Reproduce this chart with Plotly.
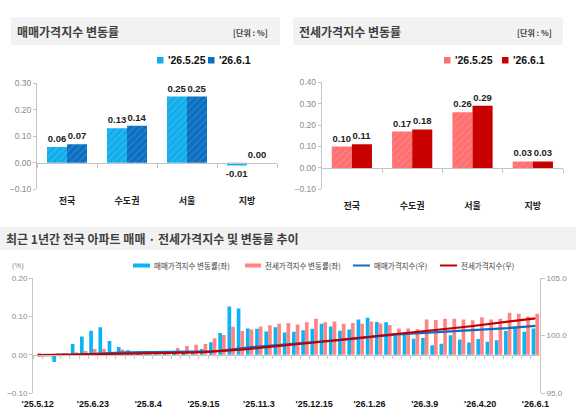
import plotly.graph_objects as go

W, H = 580, 413

# ---- 상단 막대: 주간 변동률(%) ----
regions = ["전국", "수도권", "서울", "지방"]
week_prev = "'26.5.25"
week_curr = "'26.6.1"
sale_prev = [0.06, 0.13, 0.25, -0.01]
sale_curr = [0.07, 0.14, 0.25, 0.00]
jeonse_prev = [0.10, 0.17, 0.26, 0.03]
jeonse_curr = [0.11, 0.18, 0.29, 0.03]

# ---- 하단: 최근 1년간 주간 추이 ----
weeks = [
    "'25.5.12", "'25.5.19", "'25.5.26", "'25.6.2", "'25.6.9", "'25.6.16", "'25.6.23",
    "'25.6.30", "'25.7.7", "'25.7.14", "'25.7.21", "'25.7.28", "'25.8.4", "'25.8.11",
    "'25.8.18", "'25.8.25", "'25.9.1", "'25.9.8", "'25.9.15", "'25.9.22", "'25.9.29",
    "'25.10.13", "'25.10.20", "'25.10.27", "'25.11.3", "'25.11.10", "'25.11.17", "'25.11.24",
    "'25.12.1", "'25.12.8", "'25.12.15", "'25.12.22", "'25.12.29", "'26.1.5", "'26.1.12",
    "'26.1.19", "'26.1.26", "'26.2.2", "'26.2.9", "'26.2.16", "'26.2.23", "'26.3.2",
    "'26.3.9", "'26.3.16", "'26.3.23", "'26.3.30", "'26.4.6", "'26.4.13", "'26.4.20",
    "'26.4.27", "'26.5.4", "'26.5.11", "'26.5.18", "'26.5.25", "'26.6.1",
]
sale_chg = [
    0.000, 0.000, -0.019, 0.004, 0.028, 0.048, 0.063, 0.072, 0.036, 0.020, 0.012,
    0.004, 0.008, 0.008, 0.005, 0.005, 0.005, 0.006, 0.015, 0.033, 0.057, 0.126,
    0.121, 0.069, 0.068, 0.061, 0.072, 0.058, 0.060, 0.064, 0.068, 0.081, 0.074,
    0.063, 0.066, 0.092, 0.097, 0.086, 0.085, 0.056, 0.053, 0.042, 0.044, 0.025,
    0.029, 0.051, 0.040, 0.032, 0.041, 0.034, 0.038, 0.062, 0.074, 0.060, 0.069,
]
jeonse_chg = [
    0.003, 0.000, 0.004, 0.002, 0.006, 0.010, 0.015, 0.015, 0.002, 0.014, 0.002,
    0.003, 0.008, 0.010, 0.010, 0.018, 0.023, 0.026, 0.028, 0.043, 0.052, 0.073,
    0.062, 0.066, 0.074, 0.077, 0.081, 0.083, 0.079, 0.085, 0.094, 0.085, 0.087,
    0.081, 0.083, 0.081, 0.087, 0.082, 0.078, 0.069, 0.069, 0.067, 0.092, 0.091,
    0.094, 0.094, 0.092, 0.090, 0.098, 0.092, 0.094, 0.110, 0.107, 0.100, 0.107,
]
sale_idx = [
    98.31, 98.31, 98.29, 98.30, 98.33, 98.37, 98.42, 98.48, 98.51, 98.53, 98.54,
    98.55, 98.55, 98.56, 98.57, 98.57, 98.58, 98.59, 98.61, 98.64, 98.69, 98.81,
    98.93, 98.99, 99.05, 99.11, 99.18, 99.23, 99.29, 99.35, 99.42, 99.50, 99.57,
    99.63, 99.70, 99.79, 99.88, 99.97, 100.05, 100.11, 100.16, 100.20, 100.25, 100.30,
    100.33, 100.38, 100.42, 100.46, 100.50, 100.54, 100.58, 100.65, 100.72, 100.78, 100.85,
]
jeonse_idx = [
    98.31, 98.32, 98.33, 98.34, 98.35, 98.36, 98.37, 98.39, 98.40, 98.41, 98.42,
    98.43, 98.44, 98.45, 98.46, 98.48, 98.50, 98.53, 98.56, 98.60, 98.65, 98.72,
    98.78, 98.85, 98.92, 98.99, 99.07, 99.15, 99.23, 99.31, 99.40, 99.49, 99.57,
    99.65, 99.73, 99.81, 99.90, 99.98, 100.06, 100.13, 100.20, 100.27, 100.36, 100.45,
    100.54, 100.64, 100.73, 100.82, 100.92, 101.01, 101.10, 101.21, 101.32, 101.41, 101.51,
]

# 색상
C_SALE_PREV = "#12AEEC"
C_SALE_CURR = "#0A6FC2"
C_JS_PREV = "#FF6F6F"
C_JS_CURR = "#C80000"
C_BAR_SALE = "#0BB4F5"
C_BAR_JS = "#FF8585"
C_LINE_SALE = "#0A6FC2"
C_LINE_JS = "#C00000"
AXIS = "#C4C4C4"
TICK_TXT = "#8A8A8A"
TXT = "#404040"

KR = "Noto Sans CJK KR, Liberation Sans, sans-serif"
LAT = "Liberation Sans, Arial, sans-serif"


def fx(px):
    return px / W


def fy(py):
    return 1 - py / H


def zero_pos(dom, lo, hi):
    # x축(0선)을 y=0 위치에 맞추기
    return dom[0] + (0 - lo) / (hi - lo) * (dom[1] - dom[0])


def hatch(color):
    return dict(color=color, line_width=0,
                pattern=dict(shape="/", fillmode="overlay", fgcolor="#FFFFFF",
                             fgopacity=0.12, size=5, solidity=0.3))


lbl_font = dict(family=LAT, size=9.5, color="#222222", weight="bold")
bar_txt = dict(texttemplate="%{y:.2f}", textposition="outside", textfont=lbl_font,
               cliponaxis=False, constraintext="none", showlegend=False)

fig = go.Figure()

# 매매 변동률 (상단 좌)
fig.add_trace(go.Bar(x=regions, y=sale_prev, name=week_prev, xaxis="x", yaxis="y",
                     width=1/3, offset=-1/3, marker=hatch(C_SALE_PREV), **bar_txt))
fig.add_trace(go.Bar(x=regions, y=sale_curr, name=week_curr, xaxis="x", yaxis="y",
                     width=1/3, offset=0, marker=hatch(C_SALE_CURR), **bar_txt))

# 전세 변동률 (상단 우)
fig.add_trace(go.Bar(x=regions, y=jeonse_prev, name=week_prev, xaxis="x2", yaxis="y2",
                     width=1/3, offset=-1/3, marker=hatch(C_JS_PREV), **bar_txt))
fig.add_trace(go.Bar(x=regions, y=jeonse_curr, name=week_curr, xaxis="x2", yaxis="y2",
                     width=1/3, offset=0, marker=dict(color=C_JS_CURR, line_width=0), **bar_txt))

# 하단 추이
fig.add_trace(go.Bar(x=weeks, y=sale_chg, name="매매가격지수 변동률(좌)", xaxis="x3", yaxis="y3",
                     width=0.4, offset=-0.4, marker=dict(color=C_BAR_SALE, line_width=0),
                     showlegend=False))
fig.add_trace(go.Bar(x=weeks, y=jeonse_chg, name="전세가격지수 변동률(좌)", xaxis="x3", yaxis="y3",
                     width=0.4, offset=0, marker=dict(color=C_BAR_JS, line_width=0),
                     showlegend=False))
fig.add_trace(go.Scatter(x=weeks, y=sale_idx, name="매매가격지수(우)", xaxis="x3", yaxis="y4",
                         mode="lines", line=dict(color=C_LINE_SALE, width=2.2), showlegend=False))
fig.add_trace(go.Scatter(x=weeks, y=jeonse_idx, name="전세가격지수(우)", xaxis="x3", yaxis="y4",
                         mode="lines", line=dict(color=C_LINE_JS, width=2.2), showlegend=False))
# 0선 눈금용 보조축
fig.add_trace(go.Scatter(x=weeks, y=sale_chg, xaxis="x4", yaxis="y3", mode="markers",
                         marker=dict(opacity=0), hoverinfo="skip", showlegend=False))

# 축 영역
dom_x1 = [fx(37), fx(277)]
dom_y1 = [fy(189.3), fy(83.3)]
dom_x2 = [fx(321.7), fx(563)]
dom_y2 = [fy(189.3), fy(82.3)]
dom_x3 = [fx(33), fx(540)]
dom_y3 = [fy(393), fy(278.3)]

yax = dict(showline=True, linecolor=AXIS, linewidth=1, ticks="outside", ticklen=3,
           tickcolor=AXIS, tickfont=dict(family=LAT, size=8.5, color=TICK_TXT),
           showgrid=False, zeroline=False, tickformat=".2f", dtick=0.1)
xcat = dict(type="category", showline=True, linecolor=AXIS, linewidth=1, ticks="outside",
            ticklen=4, tickcolor=AXIS, tickson="boundaries", showgrid=False,
            tickfont=dict(family=KR, size=9, color="#222222", weight="bold"),
            ticklabelstandoff=29, anchor="free")

fig.update_layout(
    width=W, height=H,
    margin=dict(l=0, r=0, t=0, b=0, autoexpand=False),
    paper_bgcolor="white", plot_bgcolor="white",
    barmode="overlay",
    font=dict(family=KR, color=TXT),
    xaxis=dict(xcat, domain=dom_x1, position=zero_pos(dom_y1, -0.1, 0.3)),
    yaxis=dict(yax, domain=dom_y1, anchor="x", range=[-0.1, 0.3]),
    xaxis2=dict(xcat, domain=dom_x2, position=zero_pos(dom_y2, -0.1, 0.4)),
    yaxis2=dict(yax, domain=dom_y2, anchor="x2", range=[-0.1, 0.4]),
    xaxis3=dict(type="category", domain=dom_x3, anchor="y3", range=[-0.5, len(weeks) - 0.5],
                tickmode="array", tickvals=weeks[::6], showline=False, ticks="",
                showgrid=False, ticklabelstandoff=4,
                tickfont=dict(family=LAT, size=9, color="#111111", weight="bold")),
    xaxis4=dict(type="category", overlaying="x3", anchor="free",
                position=zero_pos(dom_y3, -0.1, 0.2), range=[-0.5, len(weeks) - 0.5],
                showline=True, linecolor=AXIS, ticks="outside", ticklen=3, tickcolor=AXIS,
                tickson="boundaries", dtick=1, showticklabels=False, showgrid=False),
    yaxis3=dict(yax, domain=dom_y3, anchor="x3", range=[-0.1, 0.2],
                tickfont=dict(family=LAT, size=8, color=TICK_TXT)),
    yaxis4=dict(overlaying="y3", side="right", anchor="x3", range=[95, 105], dtick=5,
                tickformat=".1f", showline=True, linecolor=AXIS, ticks="outside", ticklen=4,
                tickcolor=AXIS, showgrid=False, zeroline=False,
                tickfont=dict(family=LAT, size=8, color=TICK_TXT)),
    showlegend=False,
)

shapes = []
annos = []


def rect(x0, y0, x1, y1, color):
    shapes.append(dict(type="rect", xref="paper", yref="paper", x0=fx(x0), x1=fx(x1),
                       y0=fy(y1), y1=fy(y0), fillcolor=color, line_width=0, layer="below"))


def text(x, y, s, size, color=TXT, family=KR, anchor="left"):
    annos.append(dict(xref="paper", yref="paper", x=fx(x), y=fy(y), text=s, showarrow=False,
                      xanchor=anchor, yanchor="middle",
                      font=dict(family=family, size=size, color=color)))


# 제목 띠
rect(11, 17, 280, 45, "#F2F2F2")
rect(293, 17, 563, 45, "#F2F2F2")
rect(0, 227, 576, 250, "#F2F2F2")
text(15, 31.5, "<b>매매가격지수 변동률</b>", 12)
text(231, 32, "<b>[단위 : %]</b>", 8)
text(297, 31.5, "<b>전세가격지수 변동률</b>", 12)
text(515, 32, "<b>[단위 : %]</b>", 8)
text(4, 238.5, "<b>최근 1년간 전국 아파트 매매 · 전세가격지수 및 변동률 추이</b>", 12)

# 상단 범례
for x0, col, lab in [(157, C_SALE_PREV, week_prev), (208, C_SALE_CURR, week_curr),
                     (444, C_JS_PREV, week_prev), (502, C_JS_CURR, week_curr)]:
    rect(x0, 57, x0 + 6.5, 63.5, col)
    text(x0 + 9, 60.5, "<b>" + lab + "</b>", 10.5, color="#111111", family=LAT)

# 하단 범례
text(10, 265.5, "(%)", 7.5, color=TICK_TXT, family=LAT)
rect(133, 263.5, 150, 267.5, C_BAR_SALE)
text(151.5, 265.5, "매매가격지수 변동률(좌)", 7.5)
rect(245, 263.5, 261, 267.5, C_BAR_JS)
text(262.5, 265.5, "전세가격지수 변동률(좌)", 7.5)
for x0, col, lab in [(353, C_LINE_SALE, "매매가격지수(우)"), (440, C_LINE_JS, "전세가격지수(우)")]:
    shapes.append(dict(type="line", xref="paper", yref="paper", x0=fx(x0), x1=fx(x0 + 17),
                       y0=fy(265.5), y1=fy(265.5), line=dict(color=col, width=2)))
    text(x0 + 19, 265.5, lab, 7.5)

fig.update_layout(shapes=shapes, annotations=annos)

# 페이지 기본 여백(8px) 제거, 툴바 숨김
fig.write_html("out.html", config={"displayModeBar": False},
               post_script="document.body.style.margin='0';document.body.style.overflow='hidden';")
